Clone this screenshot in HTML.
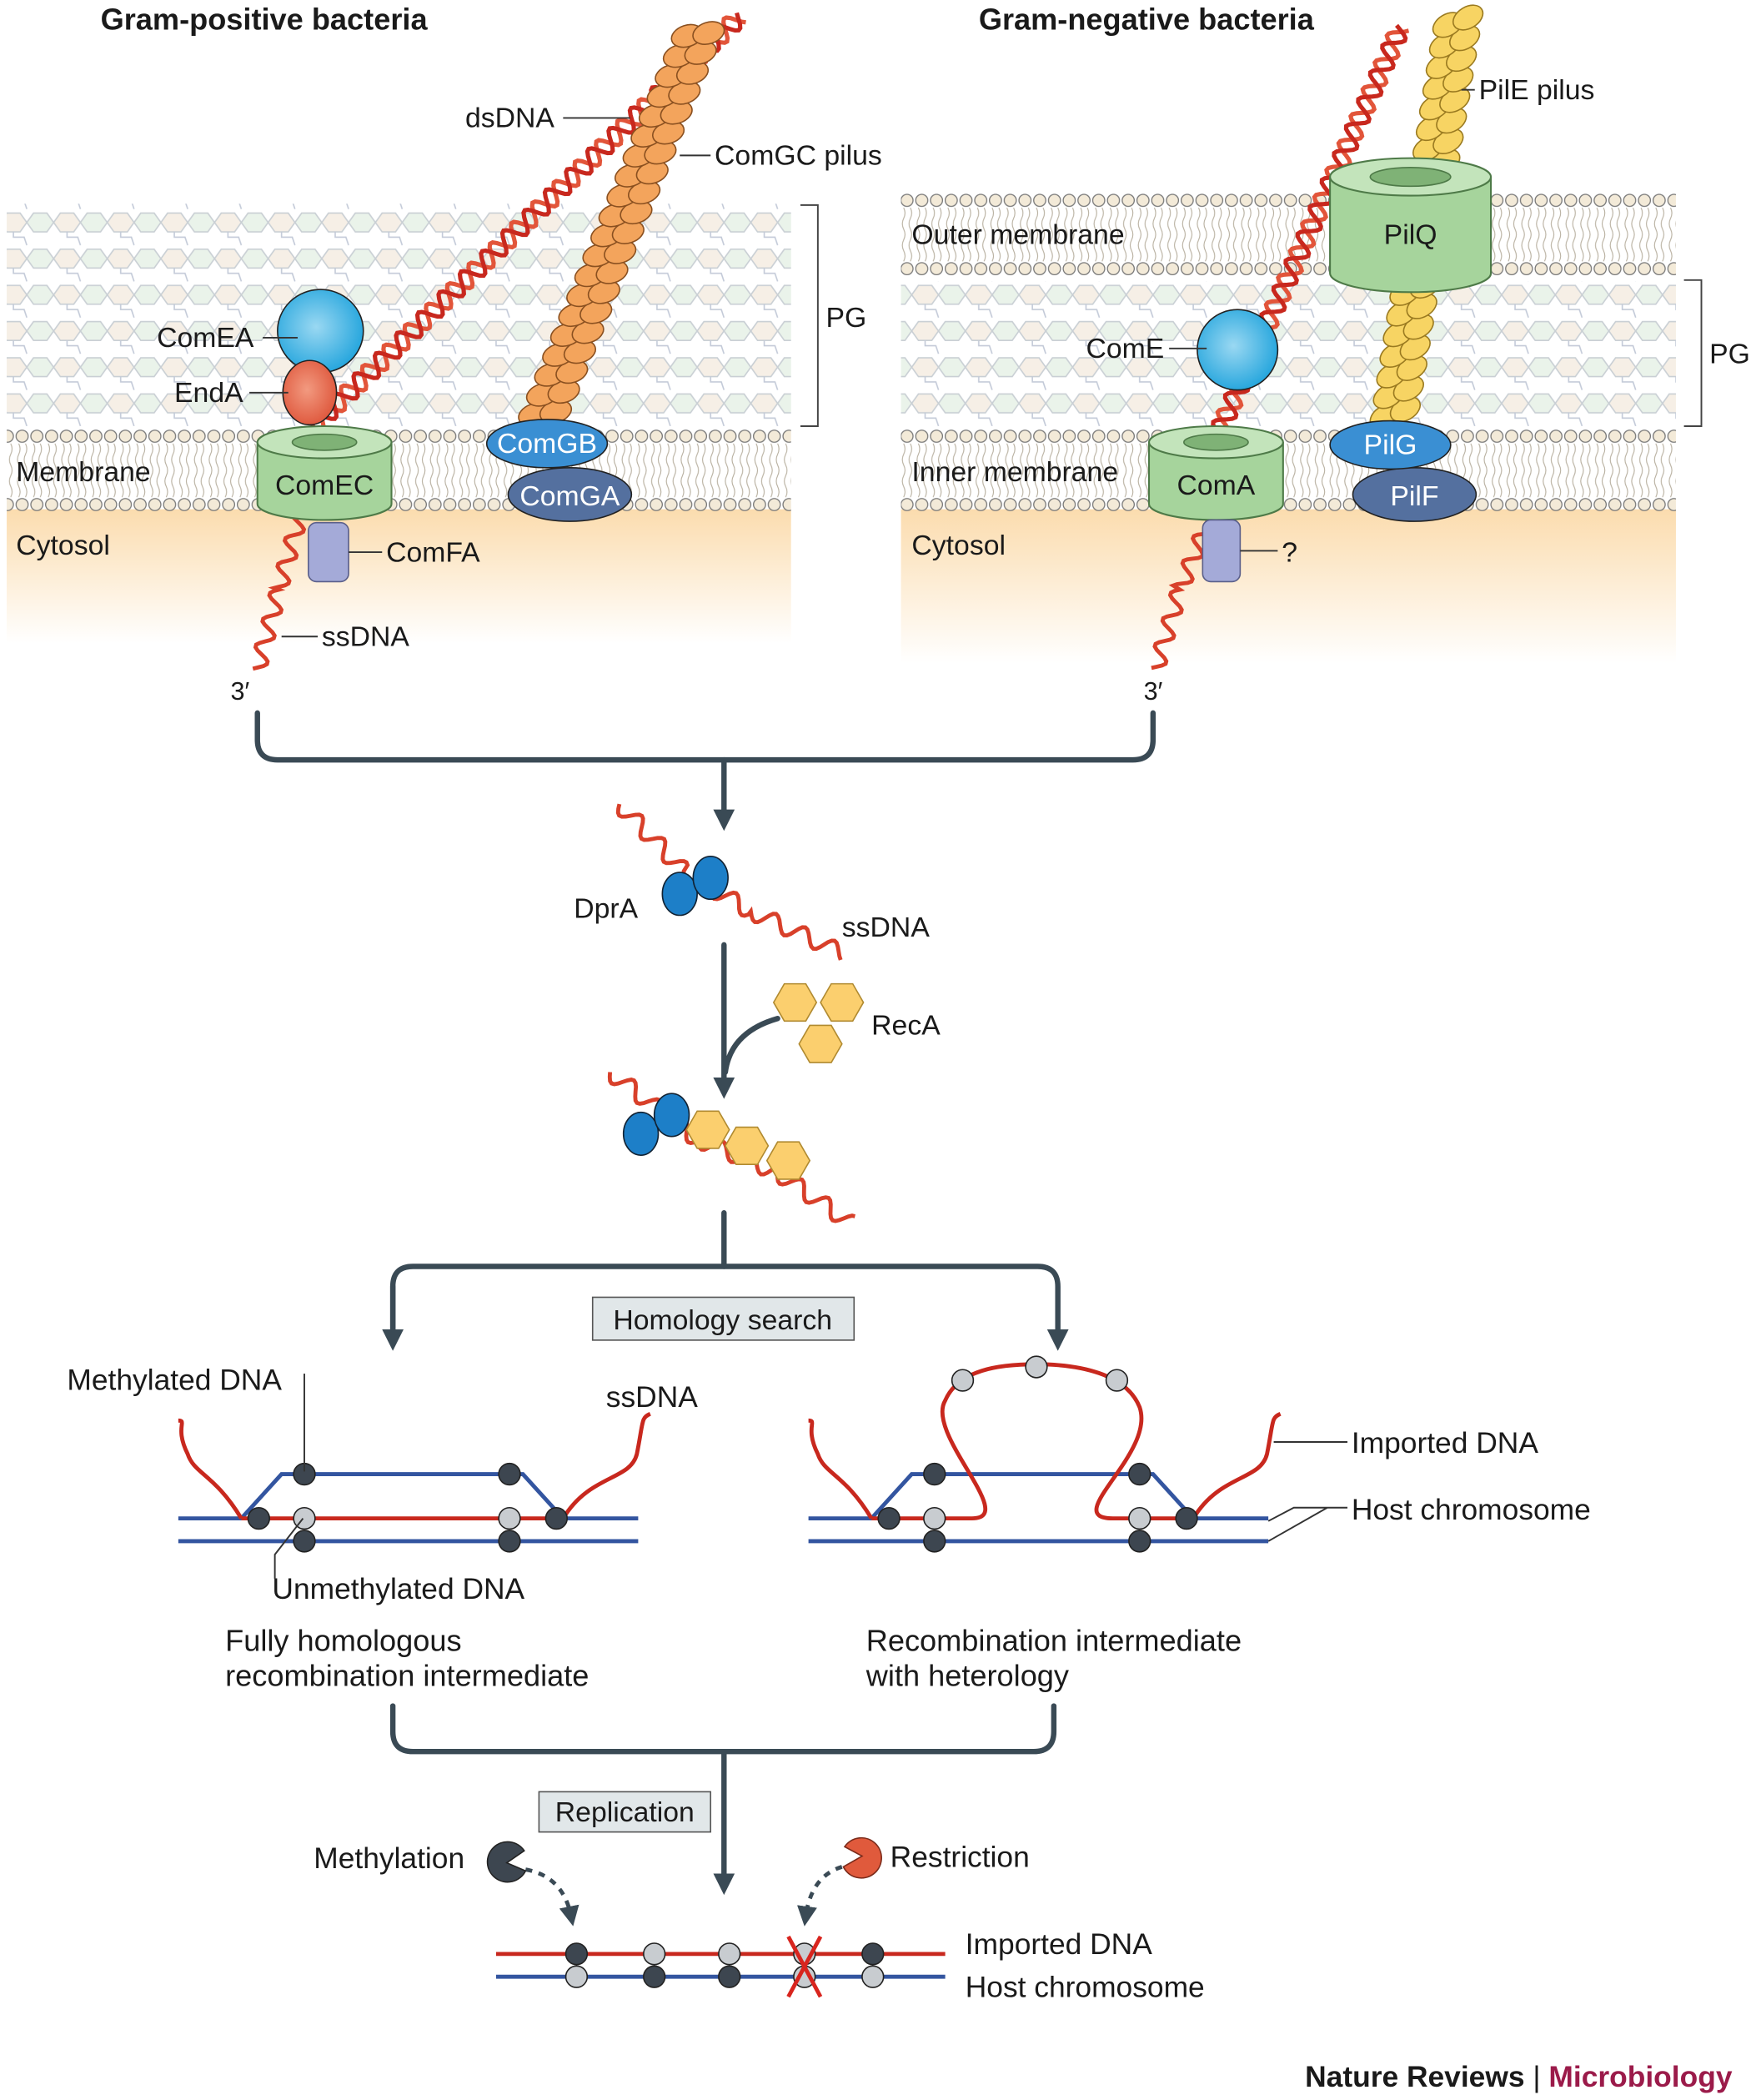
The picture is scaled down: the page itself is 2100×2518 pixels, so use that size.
<!DOCTYPE html>
<html><head><meta charset="utf-8">
<style>
html,body{margin:0;padding:0;background:#fff;}
svg{display:block;}
text{font-family:"Liberation Sans",sans-serif;fill:#1a1a1a;}
</style></head>
<body>
<svg id="fig" width="2100" height="2518" viewBox="0 0 1306 1567" preserveAspectRatio="none" xmlns="http://www.w3.org/2000/svg">
<defs>
  <pattern id="pg" width="40" height="27" patternUnits="userSpaceOnUse" y="158">
    <polygon points="0,8 5,1 15,1 20,8 15,15 5,15" fill="#f6efe6" stroke="#c9cfd4" stroke-width="1"/>
    <polygon points="20,8 25,1 35,1 40,8 35,15 25,15" fill="#eaf3ea" stroke="#c9cfd4" stroke-width="1"/>
    <polyline points="10,15 10,19 18,19 20,25" fill="none" stroke="#c3cad8" stroke-width="1"/>
  </pattern>
  <g id="lipt">
    <circle cx="5.5" cy="5.5" r="4.5" fill="#f3ead8" stroke="#777" stroke-width="0.8"/>
    <circle cx="5.5" cy="56.5" r="4.5" fill="#f3ead8" stroke="#777" stroke-width="0.8"/>
    <path d="M3,11 q2,4 0,8 q-2,4 0,8 q2,4 0,8 q-2,4 0,8 q2,4 0,8 M8,11 q2,4 0,8 q-2,4 0,8 q2,4 0,8 q-2,4 0,8 q2,4 0,8" fill="none" stroke="#b8b0a0" stroke-width="0.7"/>
  </g>
  <pattern id="lip" width="11" height="62" patternUnits="userSpaceOnUse" y="320"><use href="#lipt"/></pattern>
  <pattern id="lip2" width="11" height="62" patternUnits="userSpaceOnUse" y="144"><use href="#lipt"/></pattern>
  <linearGradient id="cyt" x1="0" y1="0" x2="0" y2="1">
    <stop offset="0" stop-color="#fbdcae"/><stop offset="1" stop-color="#fff"/>
  </linearGradient>
  <radialGradient id="cyan" cx="0.45" cy="0.45" r="0.6"><stop offset="0" stop-color="#9ad8f2"/><stop offset="1" stop-color="#1fa3dc"/></radialGradient>
  <radialGradient id="redg" cx="0.45" cy="0.45" r="0.6"><stop offset="0" stop-color="#f29a80"/><stop offset="1" stop-color="#de553a"/></radialGradient>
  <marker id="ah" viewBox="0 0 10 10" refX="5" refY="5" markerWidth="4" markerHeight="4" orient="auto"><path d="M0,0 L10,5 L0,10 z" fill="#3a4a55"/></marker>
  <marker id="ah2" viewBox="0 0 10 10" refX="5" refY="5" markerWidth="5" markerHeight="5" orient="auto"><path d="M0,0 L10,5 L0,10 z" fill="#3a4a55"/></marker>
</defs>

<text x="75" y="22" font-size="22.5" font-weight="bold">Gram-positive bacteria</text>
<text x="730" y="22" font-size="22.5" font-weight="bold">Gram-negative bacteria</text>

<g>
  <rect x="5" y="380" width="585" height="100" fill="url(#cyt)"/>
  <rect x="5" y="152" width="585" height="166" fill="url(#pg)"/>
  <rect x="5" y="320" width="585" height="62" fill="url(#lip)"/>
  <text x="12" y="359" font-size="21">Membrane</text>
  <text x="12" y="414" font-size="21">Cytosol</text>
  <path d="M597,153 H610 V318 H597" fill="none" stroke="#444" stroke-width="1.2"/>
  <text x="616" y="244" font-size="21">PG</text>
</g>
<g>
  <rect x="672" y="380" width="578" height="115" fill="url(#cyt)"/>
  <rect x="672" y="144" width="578" height="62" fill="url(#lip2)"/>
  <rect x="672" y="210" width="578" height="108" fill="url(#pg)"/>
  <rect x="672" y="320" width="578" height="62" fill="url(#lip)"/>
  <text x="680" y="182" font-size="21">Outer membrane</text>
  <text x="680" y="359" font-size="21">Inner membrane</text>
  <text x="680" y="414" font-size="21">Cytosol</text>
  <path d="M1256,209 H1269 V318 H1256" fill="none" stroke="#444" stroke-width="1.2"/>
  <text x="1275" y="271" font-size="21">PG</text>
</g>

<g id="dyn"></g>

<g>
  <path d="M192,330 V376 A50,12 0 0 0 292,376 V330" fill="#a6d49c" stroke="#4e7a48" stroke-width="1.3"/>
  <ellipse cx="242" cy="330" rx="50" ry="12" fill="#c3e4bb" stroke="#4e7a48" stroke-width="1.3"/>
  <ellipse cx="242" cy="330" rx="24" ry="6" fill="#7fb276" stroke="#4e7a48"/>
  <text x="242" y="369" font-size="21" text-anchor="middle">ComEC</text>
</g>
<rect x="230" y="390" width="30" height="44" rx="6" fill="#a4aad8" stroke="#5a5f8a"/>
<ellipse cx="239" cy="247" rx="32" ry="31" fill="url(#cyan)" stroke="#222"/>
<ellipse cx="231" cy="293" rx="20" ry="24" fill="url(#redg)" stroke="#222"/>
<ellipse cx="425" cy="369" rx="46" ry="20" fill="#54709f" stroke="#222"/>
<ellipse cx="408" cy="331" rx="45" ry="18" fill="#3a8fd3" stroke="#222"/>
<text x="408" y="338" font-size="21" text-anchor="middle" style="fill:#fff">ComGB</text>
<text x="425" y="377" font-size="21" text-anchor="middle" style="fill:#fff">ComGA</text>

<g>
  <path d="M992,132 V204 A60,14 0 0 0 1112,204 V132" fill="#a6d49c" stroke="#4e7a48" stroke-width="1.3"/>
  <ellipse cx="1052" cy="132" rx="60" ry="14" fill="#c3e4bb" stroke="#4e7a48" stroke-width="1.3"/>
  <ellipse cx="1052" cy="132" rx="30" ry="7" fill="#7fb276" stroke="#4e7a48"/>
  <text x="1052" y="182" font-size="21" text-anchor="middle">PilQ</text>
</g>
<g id="dyn2"></g>
<g>
  <path d="M857,330 V376 A50,12 0 0 0 957,376 V330" fill="#a6d49c" stroke="#4e7a48" stroke-width="1.3"/>
  <ellipse cx="907" cy="330" rx="50" ry="12" fill="#c3e4bb" stroke="#4e7a48" stroke-width="1.3"/>
  <ellipse cx="907" cy="330" rx="24" ry="6" fill="#7fb276" stroke="#4e7a48"/>
  <text x="907" y="369" font-size="21" text-anchor="middle">ComA</text>
</g>
<rect x="897" y="388" width="28" height="46" rx="6" fill="#a4aad8" stroke="#5a5f8a"/>
<ellipse cx="923" cy="261" rx="30" ry="30" fill="url(#cyan)" stroke="#222"/>
<ellipse cx="1055" cy="369" rx="46" ry="20" fill="#54709f" stroke="#222"/>
<ellipse cx="1037" cy="332" rx="45" ry="18" fill="#3a8fd3" stroke="#222"/>
<text x="1037" y="339" font-size="21" text-anchor="middle" style="fill:#fff">PilG</text>
<text x="1055" y="377" font-size="21" text-anchor="middle" style="fill:#fff">PilF</text>

<g stroke="#333" stroke-width="1.2" fill="none">
  <path d="M420,88 H470"/><path d="M507,116 H530"/><path d="M196,252 H222"/><path d="M186,293 H215"/>
  <path d="M260,412 H285"/><path d="M210,475 H237"/><path d="M872,260 H900"/><path d="M925,411 H953"/><path d="M1090,67 H1100"/>
</g>
<text x="347" y="95" font-size="21">dsDNA</text>
<text x="533" y="123" font-size="21">ComGC pilus</text>
<text x="117" y="259" font-size="21">ComEA</text>
<text x="130" y="300" font-size="21">EndA</text>
<text x="288" y="419" font-size="21">ComFA</text>
<text x="240" y="482" font-size="21">ssDNA</text>
<text x="172" y="522" font-size="19">3′</text>
<text x="810" y="267" font-size="21">ComE</text>
<text x="956" y="419" font-size="21">?</text>
<text x="1103" y="74" font-size="21">PilE pilus</text>
<text x="853" y="522" font-size="19">3′</text>

<g stroke="#3a4a55" stroke-width="4" fill="none" stroke-linecap="round">
  <path d="M192,532 V552 Q192,567 207,567 H845 Q860,567 860,552 V532"/>
  <path d="M540,567 V612" marker-end="url(#ah)"/>
  <path d="M540,705 V812" marker-end="url(#ah)"/>
  <path d="M580,760 Q545,770 541,800"/>
  <path d="M540,905 V945"/>
  <path d="M293,1000 V960 Q293,945 308,945 H774 Q789,945 789,960 V1000" marker-end="url(#ah)"/>
  <path d="M293,960 V1000" marker-end="url(#ah)"/>
  <path d="M293,1273 V1292 Q293,1307 308,1307 H771 Q786,1307 786,1292 V1273"/>
  <path d="M540,1307 V1406" marker-end="url(#ah)"/>
</g>
<g stroke="#3a4a55" stroke-width="3" fill="none" stroke-dasharray="5,5">
  <path d="M392,1395 Q420,1400 426,1430" marker-end="url(#ah2)"/>
  <path d="M628,1393 Q605,1400 601,1430" marker-end="url(#ah2)"/>
</g>
<rect x="442" y="968" width="195" height="32" fill="#e1e7e9" stroke="#555"/>
<text x="539" y="992" font-size="21" text-anchor="middle">Homology search</text>
<rect x="402" y="1337" width="128" height="30" fill="#e1e7e9" stroke="#555"/>
<text x="466" y="1359" font-size="21" text-anchor="middle">Replication</text>

<text x="428" y="685" font-size="21">DprA</text>
<text x="628" y="699" font-size="21">ssDNA</text>
<text x="650" y="772" font-size="21">RecA</text>

<g id="recomb"></g>

<text x="50" y="1037" font-size="22">Methylated DNA</text>
<text x="452" y="1050" font-size="22">ssDNA</text>
<text x="203" y="1193" font-size="22">Unmethylated DNA</text>
<text x="168" y="1232" font-size="22.5">Fully homologous</text>
<text x="168" y="1258" font-size="22.5">recombination intermediate</text>
<text x="1008" y="1084" font-size="22">Imported DNA</text>
<text x="1008" y="1134" font-size="22">Host chromosome</text>
<text x="646" y="1232" font-size="22.5">Recombination intermediate</text>
<text x="646" y="1258" font-size="22.5">with heterology</text>
<g stroke="#333" stroke-width="1.2" fill="none">
  <path d="M227,1025 V1098"/><path d="M226,1133 L205,1160 V1178"/>
  <path d="M950,1076 H1005"/><path d="M946,1135 L965,1125 H1005 M946,1150 L990,1125"/>
</g>
<text x="234" y="1394" font-size="22">Methylation</text>
<text x="664" y="1393" font-size="22">Restriction</text>
<text x="720" y="1458" font-size="22">Imported DNA</text>
<text x="720" y="1490" font-size="22">Host chromosome</text>
<path d="M378,1390 L391,1381 A15,15 0 1 0 392,1396 Z" fill="#3d4650" stroke="#222"/>
<path d="M643,1385 L629,1393 A15,15 0 1 0 630,1378 Z" fill="#e05a3c" stroke="#7a2a1a"/>

<text x="1292" y="1557" font-size="22" font-weight="bold" text-anchor="end"><tspan>Nature Reviews</tspan><tspan font-weight="normal"> | </tspan><tspan style="fill:#9b1b4a">Microbiology</tspan></text>
</svg>
<script>
var NS='http://www.w3.org/2000/svg';
var dyn=document.getElementById('dyn');
var dyn2=document.getElementById('dyn2');
var rec=document.getElementById('recomb');
function mk(tag,attrs,parent){var e=document.createElementNS(NS,tag);for(var k in attrs)e.setAttribute(k,attrs[k]);(parent||dyn).appendChild(e);return e;}
function helix(x1,y1,x2,y2,amp,per,parent){
  var dx=x2-x1,dy=y2-y1,L=Math.hypot(dx,dy),ux=dx/L,uy=dy/L,nx=-uy,ny=ux;
  for(var s=0;s<2;s++){var d='';
    for(var t=0;t<=L;t+=2){var o=amp*Math.sin(t/per*2*Math.PI+s*Math.PI*0.8);
      d+=(t?'L':'M')+(x1+ux*t+nx*o).toFixed(1)+','+(y1+uy*t+ny*o).toFixed(1);}
    mk('path',{d:d,fill:'none',stroke:s?'#c8281e':'#e2553a','stroke-width':3.2},parent);}
}
function wiggle(pts,amp,per,parent){
  var d='';
  for(var i=0;i<pts.length-1;i++){var a=pts[i],b=pts[i+1],dx=b[0]-a[0],dy=b[1]-a[1],L=Math.hypot(dx,dy),ux=dx/L,uy=dy/L;
    for(var t=0;t<=L;t+=2){var o=amp*Math.sin(t/per*2*Math.PI);d+=(d?'L':'M')+(a[0]+ux*t-uy*o).toFixed(1)+','+(a[1]+uy*t+ux*o).toFixed(1);}}
  mk('path',{d:d,fill:'none',stroke:'#d8402a','stroke-width':3},parent);
}
function pilus(x1,y1,x2,y2,n,fill,stroke,parent){
  var g=mk('g',{},parent);
  
  
  var dx=x2-x1,dy=y2-y1,ang=Math.atan2(dy,dx)*180/Math.PI,L=Math.hypot(dx,dy),nx=-dy/L,ny=dx/L;
  for(var i=0;i<n;i++){var f=i/(n-1),side=(i%2?1:-1)*7;
    var cx=x1+dx*f+nx*side,cy=y1+dy*f+ny*side;
    mk('ellipse',{cx:cx,cy:cy,rx:12,ry:8,fill:fill,stroke:stroke,'stroke-width':1,transform:'rotate('+(ang+50)+' '+cx+' '+cy+')'},g);}
}
function hexa(cx,cy,r,parent){var p='';for(var i=0;i<6;i++){var a=Math.PI/3*i;p+=(cx+r*Math.cos(a)).toFixed(1)+','+(cy+r*Math.sin(a)).toFixed(1)+' ';}
  mk('polygon',{points:p,fill:'#fbcf6e',stroke:'#b08a30','stroke-width':1},parent);}
function dot(cx,cy,dark,parent){mk('circle',{cx:cx,cy:cy,r:8,fill:dark?'#3d4650':'#c8ccd0',stroke:'#222','stroke-width':1},parent);}

helix(232,320,552,12,7,22);
pilus(405,312,522,22,40,'#f3a45c','#8a5020');
wiggle([[225,380],[208,440],[192,500]],6,20);
pilus(1040,312,1088,12,40,'#f7d463','#9a7a20');
helix(908,325,1045,20,7,22);
wiggle([[905,380],[880,440],[862,500]],6,20);

wiggle([[462,600],[510,650],[560,680],[630,712]],6,24);
mk('ellipse',{cx:507,cy:667,rx:13,ry:16,fill:'#1d7fc8',stroke:'#123'});
mk('ellipse',{cx:530,cy:655,rx:13,ry:16,fill:'#1d7fc8',stroke:'#123'});
hexa(593,748,16);hexa(628,748,16);hexa(612,779,16);
wiggle([[455,800],[520,850],[580,875],[635,913]],6,24);
mk('ellipse',{cx:478,cy:846,rx:13,ry:16,fill:'#1d7fc8',stroke:'#123'});
mk('ellipse',{cx:501,cy:832,rx:13,ry:16,fill:'#1d7fc8',stroke:'#123'});
hexa(528,843,16);hexa(557,855,16);hexa(588,866,16);

function interm(ox,loop){
  var B='#3355a0',R='#c8281e';
  mk('path',{d:'M'+(133+ox)+',1150 H'+(476+ox),stroke:B,'stroke-width':3,fill:'none'},rec);
  mk('path',{d:'M'+(133+ox)+',1133 H'+(182+ox)+' M'+(418+ox)+',1133 H'+(476+ox),stroke:B,'stroke-width':3,fill:'none'},rec);
  mk('path',{d:'M'+(180+ox)+',1133 L'+(210+ox)+',1100 H'+(390+ox)+' L'+(420+ox)+',1133',stroke:B,'stroke-width':3,fill:'none'},rec);
  if(loop){
    mk('path',{d:'M'+(180+ox)+',1133 H725 C760,1133 690,1070 705,1045 C715,1022 745,1018 773,1018 C805,1018 840,1025 850,1050 C862,1085 790,1133 830,1133 H'+(420+ox),stroke:R,'stroke-width':3,fill:'none'},rec);
  } else {
    mk('path',{d:'M'+(180+ox)+',1133 H'+(420+ox),stroke:R,'stroke-width':3,fill:'none'},rec);
  }
  mk('path',{d:'M'+(180+ox)+',1133 C'+(160+ox)+',1100 '+(145+ox)+',1100 '+(140+ox)+',1085 C'+(130+ox)+',1065 '+(140+ox)+',1060 '+(133+ox)+',1060',stroke:R,'stroke-width':3,fill:'none'},rec);
  mk('path',{d:'M'+(420+ox)+',1133 C'+(440+ox)+',1100 '+(470+ox)+',1105 '+(475+ox)+',1085 C'+(480+ox)+',1060 '+(478+ox)+',1058 '+(485+ox)+',1055',stroke:R,'stroke-width':3,fill:'none'},rec);
  dot(227+ox,1100,1,rec);dot(380+ox,1100,1,rec);dot(193+ox,1133,1,rec);dot(415+ox,1133,1,rec);
  dot(227+ox,1150,1,rec);dot(380+ox,1150,1,rec);dot(227+ox,1133,0,rec);dot(380+ox,1133,0,rec);
  if(loop){dot(718,1030,0,rec);dot(773,1020,0,rec);dot(833,1030,0,rec);}
}
interm(0,false);interm(470,true);

mk('path',{d:'M370,1458 H705',stroke:'#c8281e','stroke-width':3,fill:'none'});
mk('path',{d:'M370,1475 H705',stroke:'#3355a0','stroke-width':3,fill:'none'});
var fx=[430,488,544,600,651], topDark=[1,0,0,0,1], botDark=[0,1,1,0,0];
for(var i=0;i<fx.length;i++){dot(fx[i],1458,topDark[i]);dot(fx[i],1475,botDark[i]);}
mk('path',{d:'M588,1445 L612,1490 M612,1445 L588,1490',stroke:'#d8251e','stroke-width':3});
</script>
</body></html>
